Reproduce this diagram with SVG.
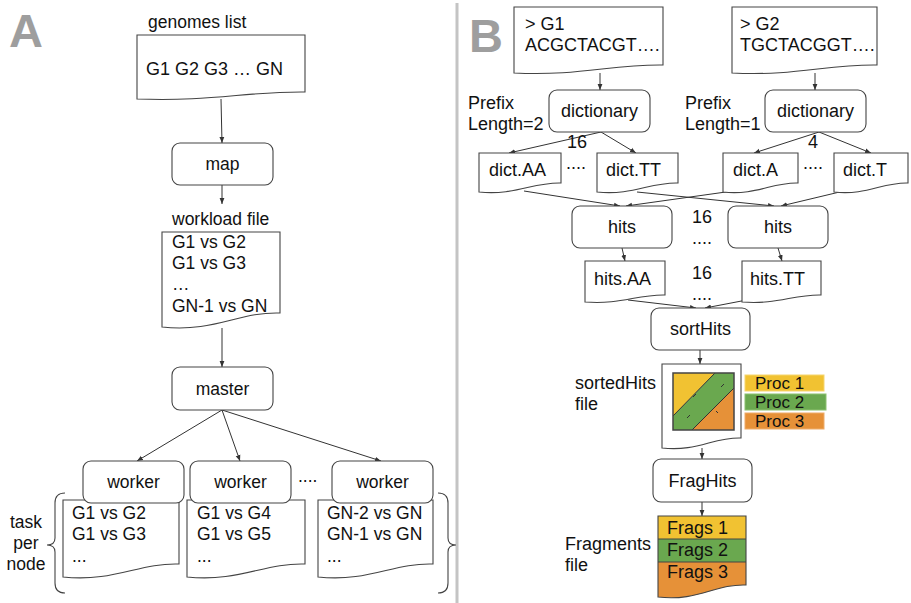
<svg xmlns="http://www.w3.org/2000/svg" width="911" height="603" viewBox="0 0 911 603">
<style>
text{font-family:"Liberation Sans",Arial,sans-serif;fill:#111;}
.a{font-size:17.5px;}
.b{font-size:18px;}
.c{text-anchor:middle;}
.box{fill:#fff;stroke:#444;stroke-width:1.1;}
.doc{fill:#fff;stroke:#444;stroke-width:1.1;}
.cn{fill:none;stroke:#333;stroke-width:1;marker-end:url(#ah);}
.big{font-size:47px;font-weight:bold;fill:#9e9e9e;}
.br{fill:none;stroke:#444;stroke-width:1.1;}
</style>
<defs>
<marker id="ah" viewBox="0 0 10 10" refX="10" refY="5" markerWidth="6" markerHeight="6" markerUnits="userSpaceOnUse" orient="auto"><path d="M0,1 L10,5 L0,9 z" fill="#333"/></marker>
<clipPath id="fragclip"><path d="M658 516 H746 V585 C715.2 583.8 697.6 601.8 658 597 Z"/></clipPath>
</defs>
<rect width="911" height="603" fill="#fff"/>
<line x1="457" y1="3" x2="457" y2="603" stroke="#c4c4c4" stroke-width="3"/>
<text class="big" x="9" y="47">A</text>
<text class="big" x="469" y="52">B</text>

<g id="connectors">
<path class="cn" d="M221 99 L222 143"/>
<path class="cn" d="M222 185 L222 204"/>
<path class="cn" d="M222 328 L222 367"/>
<path class="cn" d="M222 410 L137 461"/>
<path class="cn" d="M222 410 L240 461"/>
<path class="cn" d="M222 410 L381 461"/>
<path class="cn" d="M600 73 L600 90"/>
<path class="cn" d="M815 73 L815 90"/>
<path class="cn" d="M601 132 L509 153"/>
<path class="cn" d="M601 132 L636 153"/>
<path class="cn" d="M819 132 L754 153"/>
<path class="cn" d="M819 132 L871 153"/>
<path class="cn" d="M524 191 L620 206"/>
<path class="cn" d="M740 190 L626 206"/>
<path class="cn" d="M637 192 L774 206"/>
<path class="cn" d="M848 190 L781 206"/>
<path class="cn" d="M622 248 L625 261"/>
<path class="cn" d="M778 248 L782 261"/>
<path class="cn" d="M628 300 L696 308"/>
<path class="cn" d="M752 299 L705 308"/>
<path class="cn" d="M700 350 L700 364"/>
<path class="cn" d="M702 448 L702 459"/>
<path class="cn" d="M702 502 L702 516"/>
</g>

<g id="genomes-list">
<text class="a" x="148" y="28">genomes list</text>
<path class="doc" d="M137 35 H305 V92 C246.2 91.3 212.6 101.8 137 99 Z"/>
<text class="a" x="146" y="75" style="font-size:18px">G1 G2 G3 … GN</text>
</g>
<g id="map"><rect class="box" x="172" y="143" width="101" height="42" rx="8"/><text class="a c" x="222.5" y="170">map</text></g>
<g id="workload-file">
<text class="a" x="172" y="225">workload file</text>
<path class="doc" d="M162 232 H280 V313 C238.7 311.6 215.1 332.6 162 327 Z"/>
<text class="a" x="172" y="248">G1 vs G2</text>
<text class="a" x="172" y="269">G1 vs G3</text>
<text class="a" x="172" y="290">…</text>
<text class="a" x="172" y="312">GN-1 vs GN</text>
</g>
<g id="master"><rect class="box" x="172" y="367" width="101" height="43" rx="8"/><text class="a c" x="222.5" y="395">master</text></g>

<g id="task1">
<path class="doc" d="M63 500 H179 V564 C138.4 562.7 115.2 582.2 63 577 Z"/>
<text class="a" x="72" y="519">G1 vs G2</text>
<text class="a" x="72" y="540">G1 vs G3</text>
<text class="a" x="72" y="562">...</text>
</g>
<g id="task2">
<path class="doc" d="M187 500 H305 V564 C263.7 562.7 240.1 582.2 187 577 Z"/>
<text class="a" x="197" y="519">G1 vs G4</text>
<text class="a" x="197" y="540">G1 vs G5</text>
<text class="a" x="197" y="562">...</text>
</g>
<g id="task3">
<path class="doc" d="M318 500 H433 V564 C392.75 562.7 369.75 582.2 318 577 Z"/>
<text class="a" x="327" y="519">GN-2 vs GN</text>
<text class="a" x="327" y="540">GN-1 vs GN</text>
<text class="a" x="327" y="562">...</text>
</g>
<g id="worker1"><rect class="box" x="83" y="461" width="101" height="42" rx="8"/><text class="a c" x="133.5" y="488">worker</text></g>
<g id="worker2"><rect class="box" x="190" y="461" width="101" height="42" rx="8"/><text class="a c" x="240.5" y="488">worker</text></g>
<g id="worker3"><rect class="box" x="332" y="461" width="101" height="42" rx="8"/><text class="a c" x="382.5" y="488">worker</text></g>
<text class="a" x="298" y="482">....</text>
<g id="task-per-node">
<text class="a c" x="26" y="528">task</text>
<text class="a c" x="26" y="549">per</text>
<text class="a c" x="26" y="570">node</text>
<path class="br" d="M65 493 Q55 493 55 503 V538 Q55 545 47 545 Q55 545 55 552 V583 Q55 593 65 593"/>
<path class="br" d="M438 493 Q448 493 448 503 V538 Q448 545 456 545 Q448 545 448 552 V583 Q448 593 438 593"/>
</g>

<g id="g1-doc">
<path class="doc" d="M514 7 H663 V65 C610.85 64.2 581.05 76.2 514 73 Z"/>
<text class="b" x="525" y="30">&gt; G1</text>
<text class="b" x="525" y="51">ACGCTACGT….</text>
</g>
<g id="g2-doc">
<path class="doc" d="M732 7 H877 V65 C826.25 64.2 797.25 76.2 732 73 Z"/>
<text class="b" x="740" y="30">&gt; G2</text>
<text class="b" x="740" y="51">TGCTACGGT….</text>
</g>
<text class="b" x="468" y="109">Prefix</text>
<text class="b" x="468" y="130">Length=2</text>
<text class="b" x="685" y="109">Prefix</text>
<text class="b" x="685" y="130">Length=1</text>
<g id="dictionary1"><rect class="box" x="549" y="90" width="101" height="42" rx="8"/><text class="b c" x="599.5" y="117">dictionary</text></g>
<g id="dictionary2"><rect class="box" x="765" y="90" width="101" height="42" rx="8"/><text class="b c" x="815.5" y="117">dictionary</text></g>
<text class="b" x="567" y="148">16</text>
<text class="b" x="808" y="148">4</text>
<g id="dict-AA"><path class="doc" d="M479 153 H561 V183 C532.3 182.1 515.9 195.6 479 192 Z"/><text class="b" x="489" y="176">dict.AA</text></g>
<g id="dict-TT"><path class="doc" d="M597 153 H678 V183 C649.65 182.1 633.45 195.6 597 192 Z"/><text class="b" x="606" y="176">dict.TT</text></g>
<g id="dict-A"><path class="doc" d="M723 153 H798 V183 C771.75 182.1 756.75 195.6 723 192 Z"/><text class="b" x="733" y="176">dict.A</text></g>
<g id="dict-T"><path class="doc" d="M834 153 H908 V183 C882.1 182.1 867.3 195.6 834 192 Z"/><text class="b" x="843" y="176">dict.T</text></g>
<text class="b" x="566" y="169">....</text>
<text class="b" x="803" y="169">....</text>
<g id="hits1"><rect class="box" x="572" y="206" width="100" height="42" rx="8"/><text class="b c" x="622" y="233">hits</text></g>
<g id="hits2"><rect class="box" x="728" y="206" width="100" height="42" rx="8"/><text class="b c" x="778" y="233">hits</text></g>
<text class="b" x="692" y="223">16</text>
<text class="b" x="692" y="244">....</text>
<g id="hits-AA"><path class="doc" d="M585 261 H665 V295 C637 294.3 621 304.8 585 302 Z"/><text class="b" x="594" y="285">hits.AA</text></g>
<g id="hits-TT"><path class="doc" d="M742 261 H821 V295 C793.35 294.3 777.55 304.8 742 302 Z"/><text class="b" x="750" y="285">hits.TT</text></g>
<text class="b" x="692" y="279">16</text>
<text class="b" x="692" y="300">....</text>
<g id="sortHits"><rect class="box" x="651" y="308" width="99" height="42" rx="8"/><text class="b c" x="700.5" y="335">sortHits</text></g>
<g id="sortedHits-file">
<text class="b" x="575" y="389">sortedHits</text>
<text class="b" x="575" y="410">file</text>
<path class="doc" d="M662 364 H741 V438 C713.35 437 697.55 452 662 448 Z"/>
<polygon points="673,373 715,373 673,416" fill="#f1c232"/>
<polygon points="715,373 734,373 734,388 692,430 673,430 673,416" fill="#6aa84f"/>
<polygon points="734,388 734,430 692,430" fill="#e69138"/>
<line x1="715" y1="373" x2="673" y2="416" stroke="#333" stroke-width="1"/>
<line x1="734" y1="388" x2="692" y2="430" stroke="#333" stroke-width="1"/>
<rect x="673" y="373" width="61" height="57" fill="none" stroke="#444" stroke-width="1.5"/>
<g stroke="#333" stroke-width="1"><line x1="693" y1="397" x2="696" y2="394"/><line x1="721" y1="387" x2="724" y2="384"/><line x1="687" y1="418" x2="690" y2="415"/><line x1="716" y1="411" x2="718" y2="413"/></g>
</g>
<g id="proc-legend">
<rect x="745" y="375" width="79" height="16" fill="#f1c232" stroke="#f6d56e"/>
<text x="755" y="389" style="font-size:17px">Proc 1</text>
<rect x="745" y="394" width="81" height="16" fill="#6aa84f" stroke="#8cc070"/>
<text x="755" y="408" style="font-size:17px">Proc 2</text>
<rect x="745" y="413" width="79" height="16" fill="#e69138" stroke="#eeac6a"/>
<text x="755" y="427" style="font-size:17px">Proc 3</text>
</g>
<g id="FragHits"><rect class="box" x="653" y="459" width="99" height="43" rx="8"/><text class="b c" x="702.5" y="487">FragHits</text></g>
<g id="fragments-file">
<text class="b" x="565" y="550">Fragments</text>
<text class="b" x="565" y="571">file</text>
<g clip-path="url(#fragclip)">
<rect x="655" y="514" width="95" height="25" fill="#f1c232"/>
<rect x="655" y="539" width="95" height="23" fill="#6aa84f"/>
<rect x="655" y="562" width="95" height="45" fill="#e69138"/>
</g>
<line x1="658" y1="539" x2="746" y2="539" stroke="#444" stroke-width="1.1"/>
<line x1="658" y1="562" x2="746" y2="562" stroke="#444" stroke-width="1.1"/>
<path d="M658 516 H746 V585 C715.2 583.8 697.6 601.8 658 597 Z" fill="none" stroke="#444" stroke-width="1.1"/>
<text class="b" x="667" y="534">Frags 1</text>
<text class="b" x="667" y="556">Frags 2</text>
<text class="b" x="667" y="578">Frags 3</text>
</g>
</svg>
